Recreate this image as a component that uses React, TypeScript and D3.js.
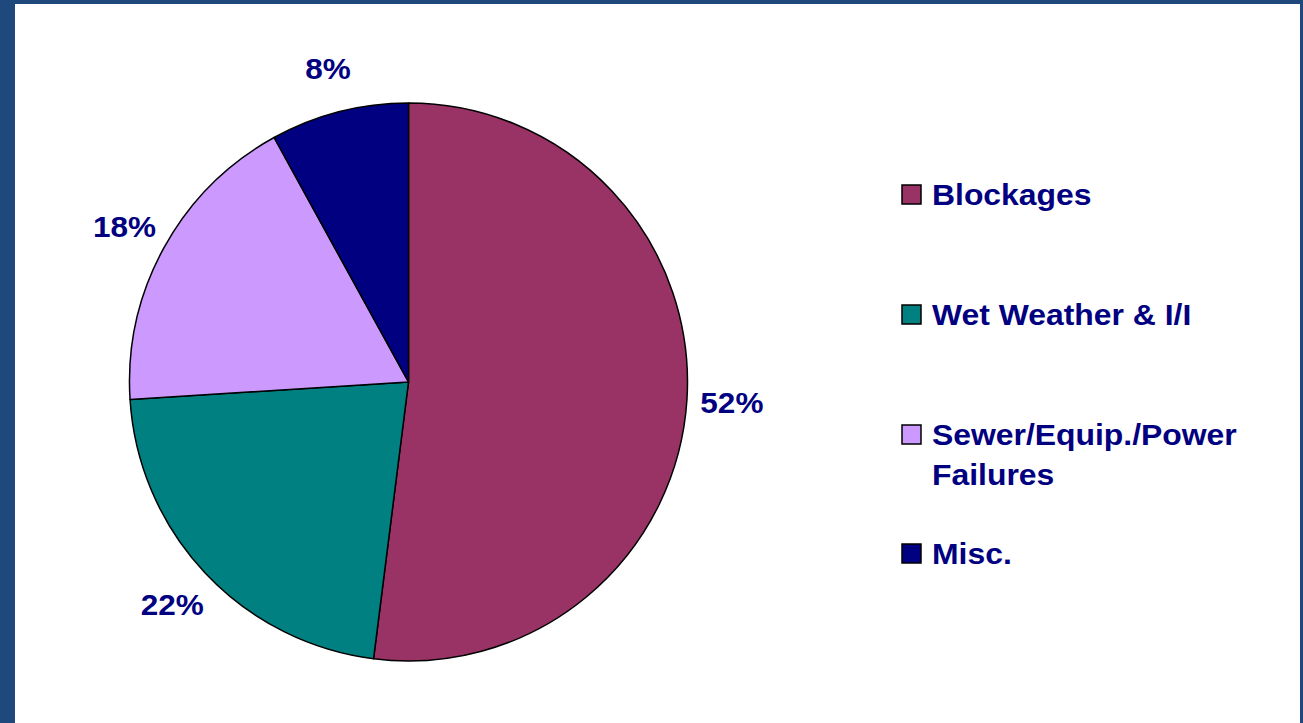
import React, { useEffect, useRef } from 'react';
import * as d3 from 'd3';

// Share of overflow causes (%)
const categories = ['Blockages', 'Wet Weather & I/I', 'Sewer/Equip./Power Failures', 'Misc.'];
const values = [52, 22, 18, 8];
const colors = ['#993366', '#008080', '#CC99FF', '#000080'];
// legend text broken into lines as in the original
const legendLines = [['Blockages'], ['Wet Weather & I/I'], ['Sewer/Equip./Power', 'Failures'], ['Misc.']];

const App: React.FC = () => {
    const ref = useRef<SVGSVGElement>(null);

    useEffect(() => {
        document.body.style.margin = '0';
        const width = 1303;
        const height = 723;
        const cx = 408.5;
        const cy = 382;
        const radius = 279;
        const textColor = '#000080';
        const font = '"Liberation Sans", Arial, Helvetica, sans-serif';

        const svg = d3.select(ref.current!);
        svg.selectAll('*').remove();
        svg.attr('width', width).attr('height', height).attr('viewBox', [0, 0, width, height]);

        // dark blue frame + white panel
        svg.append('rect').attr('width', width).attr('height', height).attr('fill', '#1f497d');
        svg.append('rect')
            .attr('x', 15)
            .attr('y', 4)
            .attr('width', 1285)
            .attr('height', height - 4)
            .attr('fill', '#fff');

        const data = categories.map((c, i) => ({ name: c, value: values[i], color: colors[i] }));
        const pie = d3
            .pie<{ name: string; value: number; color: string }>()
            .sort(null)
            .value((d) => d.value);
        const arcs = pie(data);

        const arc = d3.arc<d3.PieArcDatum<any>>().innerRadius(0).outerRadius(radius);
        const labelArc = d3.arc<d3.PieArcDatum<any>>().innerRadius(324).outerRadius(324);

        const g = svg.append('g').attr('transform', `translate(${cx},${cy})`);
        g.selectAll('path')
            .data(arcs)
            .join('path')
            .attr('d', arc as any)
            .attr('fill', (d) => d.data.color)
            .attr('stroke', '#000')
            .attr('stroke-width', 1.5)
            .attr('stroke-linejoin', 'round');

        g.selectAll('text')
            .data(arcs)
            .join('text')
            .attr('transform', (d) => `translate(${labelArc.centroid(d as any)}) scale(1.05,1)`)
            .attr('text-anchor', 'middle')
            .attr('dy', '0.36em')
            .attr('fill', textColor)
            .attr('font-family', font)
            .attr('font-weight', 'bold')
            .attr('font-size', 30)
            .text((d) => `${d.data.value}%`);

        // legend
        const legendY = d3.scaleLinear().domain([0, 1]).range([205, 325]);
        const legend = svg.append('g');
        const items = legend
            .selectAll('g')
            .data(data)
            .join('g')
            .attr('transform', (_, i) => `translate(0,${legendY(i) - (i === 3 ? 1 : 0)})`);
        items
            .append('rect')
            .attr('x', 902)
            .attr('y', -20)
            .attr('width', 19)
            .attr('height', 19)
            .attr('fill', (d) => d.color)
            .attr('stroke', '#000')
            .attr('stroke-width', 1.5);
        items
            .append('text')
            .attr('transform', 'translate(932,0) scale(1.1,1)')
            .attr('fill', textColor)
            .attr('font-family', font)
            .attr('font-weight', 'bold')
            .attr('font-size', 29)
            .selectAll('tspan')
            .data((_, i) => legendLines[i])
            .join('tspan')
            .attr('x', 0)
            .attr('y', (_, j) => j * 40)
            .text((t) => t);
    }, []);

    return <svg ref={ref} style={{ display: 'block' }} />;
};

export default App;
